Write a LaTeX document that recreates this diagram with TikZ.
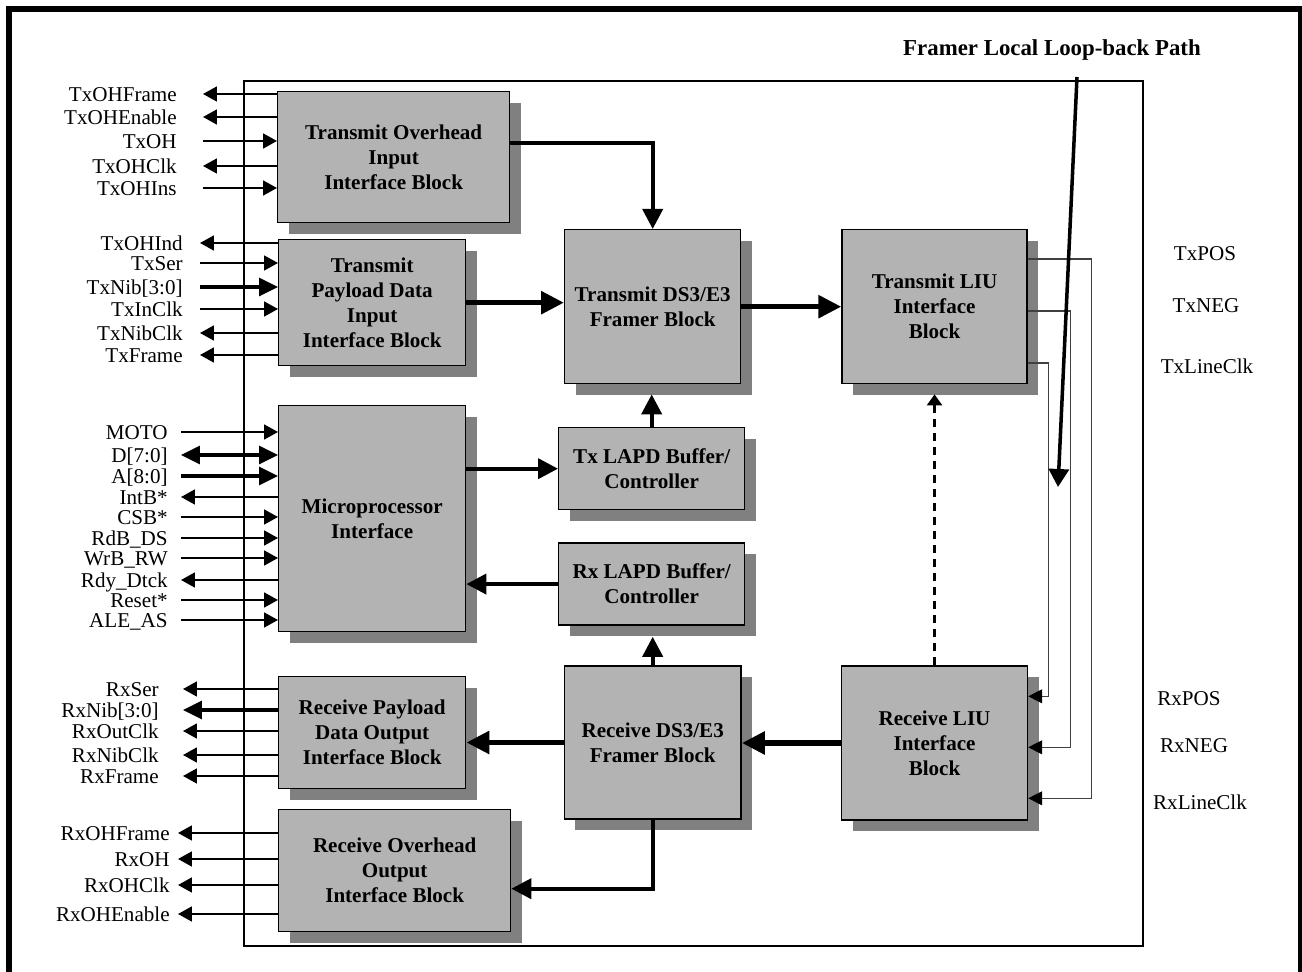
\documentclass[tikz,border=0pt]{standalone}
\usepackage{fontspec}
\setmainfont{Liberation Serif}
\usepackage{xcolor}
\usepackage{tikz}
\usetikzlibrary{arrows.meta, positioning}
\definecolor{blockgray}{RGB}{179,179,179}
\definecolor{shadegray}{RGB}{128,128,128}

\begin{document}
\begin{tikzpicture}[
    x=0.02cm, y=-0.02cm,
    font=\fontsize{12pt}{14.2pt}\selectfont,
    block/.style={draw, line width=0.8pt, fill=blockgray, align=center, inner sep=2pt,
        font=\fontsize{12pt}{14.2pt}\selectfont\bfseries,
        preaction={fill=shadegray, draw=none, transform canvas={xshift=0.22cm, yshift=-0.22cm}}},
    siglab/.style={anchor=east, inner ysep=0pt, inner xsep=#1, text height=8pt, text depth=0pt},
    sig/.style={line width=1pt, >={Triangle[length=0.28cm, width=0.3cm]}, ->},
    bus/.style={line width=1.9pt, >={Triangle[length=0.38cm, width=0.36cm]}, ->},
    mainarrow/.style={line width=3.2pt, -{Triangle[length=0.46cm, width=0.44cm]}},
    sidearrow/.style={line width=2.2pt, -{Triangle[length=0.4cm, width=0.4cm]}},
    loopback/.style={line width=2pt, -{Triangle[length=0.36cm, width=0.4cm]}},
    liuline/.style={line width=0.7pt, black!75, -{Triangle[length=0.28cm, width=0.28cm, color=black]}},
    dasharrow/.style={line width=1.4pt, dash pattern=on 0.16cm off 0.12cm, -{Triangle[length=0.22cm, width=0.3cm]}}
]
\useasboundingbox (0,0) rectangle (1302,972);

% Frames
\draw[line width=0.12cm] (9,990) -- (9,9) -- (1301,9) -- (1301,990);
\draw[line width=1.5pt] (244,81) rectangle (1143,946);

% Left column blocks
\node[block, anchor=north west, minimum width=4.64cm, minimum height=2.62cm] (txohblk) at (277,91) {Transmit Overhead\\Input\\Interface Block};
\node[block, anchor=north west, minimum width=3.74cm, minimum height=2.52cm] (txpayblk) at (278,239) {Transmit\\Payload Data\\Input\\Interface Block};
\node[block, anchor=north west, minimum width=3.74cm, minimum height=4.52cm] (microblk) at (278,405) {Microprocessor\\Interface};
\node[block, anchor=north west, minimum width=3.74cm, minimum height=2.24cm] (rxpayblk) at (278,676) {Receive Payload\\Data Output\\Interface Block};
\node[block, anchor=north west, minimum width=4.64cm, minimum height=2.44cm] (rxohblk) at (278,809) {Receive Overhead\\Output\\Interface Block};

% Framer and LIU blocks
\node[block, anchor=north west, minimum width=3.52cm, minimum height=3.08cm] (txfrblk) at (564,229) {Transmit DS3/E3\\Framer Block};
\node[block, right=2cm of txfrblk, minimum width=3.7cm, minimum height=3.08cm] (txliublk) {Transmit LIU\\Interface\\Block};
\node[block, below=5.62cm of txfrblk, minimum width=3.54cm, minimum height=3.06cm] (rxfrblk) {Receive DS3/E3\\Framer Block};
\node[block, below=5.62cm of txliublk, minimum width=3.72cm, minimum height=3.08cm] (rxliublk) {Receive LIU\\Interface\\Block};

% LAPD blocks
\node[block, anchor=north west, minimum width=3.72cm, minimum height=1.64cm] (txlapdblk) at (558,427) {Tx LAPD Buffer/\\Controller};
\node[block, below=0.64cm of txlapdblk, minimum width=3.72cm, minimum height=1.64cm] (rxlapdblk) {Rx LAPD Buffer/\\Controller};

% Internal paths
\draw[sidearrow] ([yshift=0.29cm]txohblk.east) -| (txfrblk.north);
\draw[mainarrow] (txpayblk.east) -- (txpayblk.east -| txfrblk.west);
\draw[mainarrow] (txfrblk.east) -- (txfrblk.east -| txliublk.west);
\draw[sidearrow] (txlapdblk.west -| microblk.east) -- (txlapdblk.west);
\draw[sidearrow, shorten >=0.2cm] (txlapdblk.north) -- (txlapdblk.north |- txfrblk.south);
\draw[sidearrow] (rxlapdblk.west) -- (rxlapdblk.west -| microblk.east);
\draw[sidearrow, shorten >=0.22cm] (rxfrblk.north) -- (rxfrblk.north |- rxlapdblk.south);
\draw[mainarrow] (rxliublk.west) -- (rxliublk.west -| rxfrblk.east);
\draw[mainarrow] (rxfrblk.west) -- (rxfrblk.west -| rxpayblk.east);
\draw[sidearrow] (rxfrblk.south) |- ([yshift=-0.36cm]rxohblk.east);
\draw[dasharrow, shorten >=0.2cm] (rxliublk.north) -- (rxliublk.north |- txliublk.south);

% Line side
\draw[liuline] ([yshift=-0.6cm]txliublk.north east) -- ++(64,0) |- ([yshift=-2.66cm]rxliublk.north east);
\draw[liuline] ([yshift=-1.64cm]txliublk.north east) -- ++(43,0) |- ([yshift=-1.64cm]rxliublk.north east);
\draw[liuline] ([yshift=-2.68cm]txliublk.north east) -- ++(21,0) |- ([yshift=-0.62cm]rxliublk.north east);

\node (txpos) at (1205,254) {TxPOS};
\node (txneg) at (1206,306) {TxNEG};
\node (txlineclk) at (1207,366) {TxLineClk};
\node (rxpos) at (1189,699) {RxPOS};
\node (rxneg) at (1194,746) {RxNEG};
\node (rxlineclk) at (1200,802) {RxLineClk};

% Loop-back path
\node[font=\fontsize{13pt}{15pt}\selectfont\bfseries] (looptitle) at (1052,50) {Framer Local Loop-back Path};
\coordinate (lbtop) at (1077,77);
\coordinate (lbend) at (1058,487);
\draw[loopback] (lbtop) -- (lbend);

% Transmit overhead pins
\node[siglab=0.52cm] (txohframe) at (203,94) {TxOHFrame};
\node[siglab=0.52cm] (txohenable) at (203,117) {TxOHEnable};
\node[siglab=0.52cm] (txohsig) at (203,141) {TxOH};
\node[siglab=0.52cm] (txohclk) at (203,166) {TxOHClk};
\node[siglab=0.52cm] (txohins) at (203,188) {TxOHIns};
\draw[sig] (txohblk.west |- txohframe) -- (txohframe);
\draw[sig] (txohblk.west |- txohenable) -- (txohenable);
\draw[sig] (txohsig) -- (txohblk.west |- txohsig);
\draw[sig] (txohblk.west |- txohclk) -- (txohclk);
\draw[sig] (txohins) -- (txohblk.west |- txohins);

% Transmit payload pins
\node[siglab=0.34cm] (txohind) at (200,243) {TxOHInd};
\node[siglab=0.34cm] (txser) at (200,263) {TxSer};
\node[siglab=0.34cm] (txnib) at (200,287) {TxNib[3:0]};
\node[siglab=0.34cm] (txinclk) at (200,309) {TxInClk};
\node[siglab=0.34cm] (txnibclk) at (200,333) {TxNibClk};
\node[siglab=0.34cm] (txframe) at (200,355) {TxFrame};
\draw[sig] (txpayblk.west |- txohind) -- (txohind);
\draw[sig] (txser) -- (txpayblk.west |- txser);
\draw[bus] (txnib) -- (txpayblk.west |- txnib);
\draw[sig] (txinclk) -- (txpayblk.west |- txinclk);
\draw[sig] (txpayblk.west |- txnibclk) -- (txnibclk);
\draw[sig] (txpayblk.west |- txframe) -- (txframe);

% Microprocessor pins
\node[siglab=0.26cm] (moto) at (181,432) {MOTO};
\node[siglab=0.26cm] (dbus) at (181,455) {D[7:0]};
\node[siglab=0.26cm] (abus) at (181,476) {A[8:0]};
\node[siglab=0.26cm] (intb) at (181,497) {IntB*};
\node[siglab=0.26cm] (csb) at (181,517) {CSB*};
\node[siglab=0.26cm] (rdb) at (181,538) {RdB\_DS};
\node[siglab=0.26cm] (wrb) at (181,558) {WrB\_RW};
\node[siglab=0.26cm] (rdy) at (181,580) {Rdy\_Dtck};
\node[siglab=0.26cm] (reset) at (181,600) {Reset*};
\node[siglab=0.26cm] (ale) at (181,620) {ALE\_AS};
\draw[sig] (moto) -- (microblk.west |- moto);
\draw[bus, <->] (dbus) -- (microblk.west |- dbus);
\draw[bus] (abus) -- (microblk.west |- abus);
\draw[sig] (microblk.west |- intb) -- (intb);
\draw[sig] (csb) -- (microblk.west |- csb);
\draw[sig] (rdb) -- (microblk.west |- rdb);
\draw[sig] (wrb) -- (microblk.west |- wrb);
\draw[sig] (microblk.west |- rdy) -- (rdy);
\draw[sig] (reset) -- (microblk.west |- reset);
\draw[sig] (ale) -- (microblk.west |- ale);

% Receive payload pins
\node[siglab=0.48cm] (rxser) at (183,689) {RxSer};
\node[siglab=0.48cm] (rxnib) at (183,710) {RxNib[3:0]};
\node[siglab=0.48cm] (rxoutclk) at (183,731) {RxOutClk};
\node[siglab=0.48cm] (rxnibclk) at (183,755) {RxNibClk};
\node[siglab=0.48cm] (rxframe) at (183,776) {RxFrame};
\draw[sig] (rxpayblk.west |- rxser) -- (rxser);
\draw[bus] (rxpayblk.west |- rxnib) -- (rxnib);
\draw[sig] (rxpayblk.west |- rxoutclk) -- (rxoutclk);
\draw[sig] (rxpayblk.west |- rxnibclk) -- (rxnibclk);
\draw[sig] (rxpayblk.west |- rxframe) -- (rxframe);

% Receive overhead pins
\node[siglab=0.16cm] (rxohframe) at (178,833) {RxOHFrame};
\node[siglab=0.16cm] (rxohsig) at (178,859) {RxOH};
\node[siglab=0.16cm] (rxohclk) at (178,885) {RxOHClk};
\node[siglab=0.16cm] (rxohenable) at (178,914) {RxOHEnable};
\draw[sig] (rxohblk.west |- rxohframe) -- (rxohframe);
\draw[sig] (rxohblk.west |- rxohsig) -- (rxohsig);
\draw[sig] (rxohblk.west |- rxohclk) -- (rxohclk);
\draw[sig] (rxohblk.west |- rxohenable) -- (rxohenable);

\end{tikzpicture}
\end{document}
